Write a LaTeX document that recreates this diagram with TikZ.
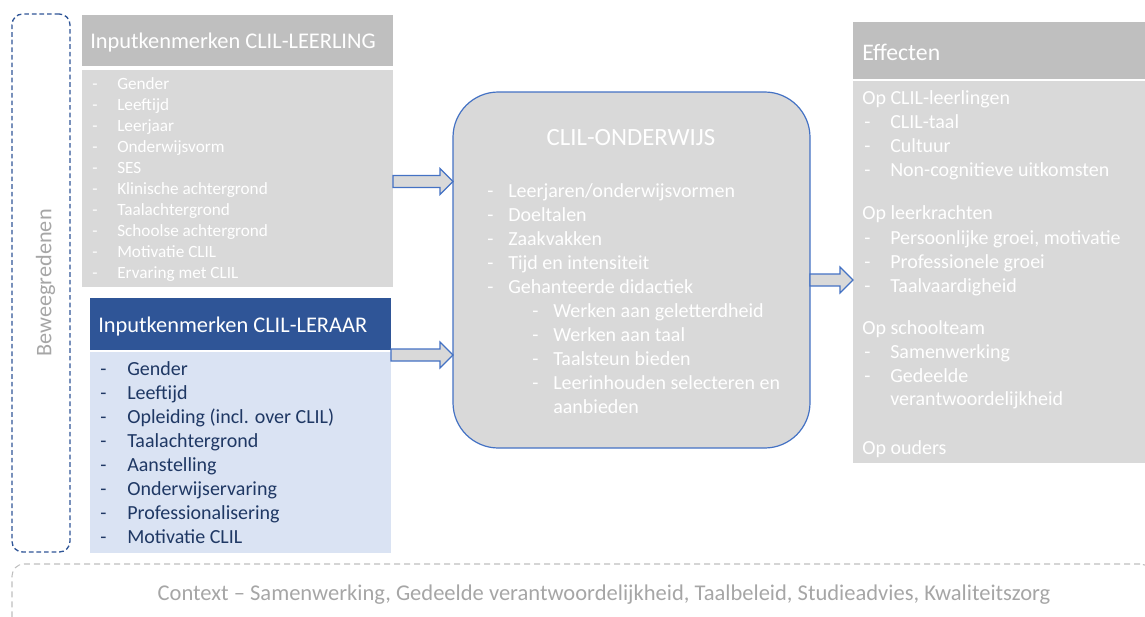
\documentclass[tikz,border=0pt]{standalone}
\usepackage{fontspec}
\setmainfont{Carlito}
\usetikzlibrary{calc}
\definecolor{headgray}{HTML}{BFBFBF}
\definecolor{listgray}{HTML}{D9D9D9}
\definecolor{navy}{HTML}{2F5597}
\definecolor{paleblue}{HTML}{DAE3F3}
\definecolor{navytext}{HTML}{1F3864}
\definecolor{edgeblue}{HTML}{4472C4}
\definecolor{sidegray}{HTML}{A6A6A6}
\newcommand{\fhead}{\fontsize{16.8}{20}\selectfont}
\newcommand{\fsmall}{\fontsize{12.9}{15}\selectfont}
\newcommand{\flist}{\fontsize{15}{18}\selectfont}
\newcommand{\ftitle}{\fontsize{18.6}{22}\selectfont}
\newcommand{\feff}{\fontsize{17.8}{21}\selectfont}
\newcommand{\fctx}{\fontsize{16.9}{20}\selectfont}
\newcommand{\fside}{\fontsize{16.7}{20}\selectfont}
% block arrow between two anchors, at height #3 (px)
\newcommand{\fatarrow}[3]{%
  \draw[fatarrow] let \p1=(#1), \p2=(#2), \p3=(0,#3) in
    (\x1,\y3+4.5pt) -- (\x2-9.75pt,\y3+4.5pt) -- (\x2-9.75pt,\y3+9.75pt) -- (\x2,\y3)
    -- (\x2-9.75pt,\y3-9.75pt) -- (\x2-9.75pt,\y3-4.5pt) -- (\x1,\y3-4.5pt) -- cycle;}
\begin{document}
\begin{tikzpicture}[x=0.75pt, y=-0.75pt,
  pxsize/.style 2 args={minimum width=#1*0.75pt, minimum height=#2*0.75pt},
  box/.style={anchor=north west, inner sep=0pt, outer sep=0pt},
  hdr/.style={box, fill=headgray},
  lst/.style={box, fill=listgray},
  wtxt/.style={text=white, inner sep=0pt, anchor=base west},
  btxt/.style={text=navytext, inner sep=0pt, anchor=base west, font=\flist},
  fatarrow/.style={draw=edgeblue, fill=listgray, line width=0.9pt}]
 \useasboundingbox (0,0) rectangle (1145,617);
 \clip (0,0) rectangle (1145,617);

 % frames
 \node[box, draw=navy, line width=1pt, dash pattern=on 3.5pt off 2.2pt, rounded corners=8pt, pxsize={58}{538}] (motives) at (12,14) {};
 \node[box, draw=headgray, line width=0.8pt, dash pattern=on 4.5pt off 3pt, rounded corners=9pt, pxsize={1140}{90}] (context) at (12,564) {};
 \node[rotate=90, text=sidegray, font=\fside, inner sep=0pt] (motivestxt) at (45.5,283) {Beweegredenen};
 \node[text=sidegray, font=\fctx, inner sep=0pt, anchor=base] (contexttxt) at (604,600)
   {Context -- Samenwerking, Gedeelde verantwoordelijkheid, Taalbeleid, Studieadvies, Kwaliteitszorg};

 % leerling
 \node[hdr, pxsize={311}{51}] (llhead) at (82,15) {};
 \node[lst, pxsize={311}{217}] (llist) at (82,70) {};
 \node[wtxt, font=\fhead] (llheadtxt) at (90,49) {Inputkenmerken CLIL-LEERLING};
 \foreach \txt [count=\i from 0] in {Gender, Leeftijd, Leerjaar, Onderwijsvorm, SES,
   Klinische achtergrond, Taalachtergrond, Schoolse achtergrond, Motivatie CLIL, Ervaring met CLIL}{
   \node[wtxt, font=\fsmall] (lld\i) at (92,{89.5+21*\i}) {-};
   \node[wtxt, font=\fsmall] (ll\i) at (117,{89.5+21*\i}) {\txt};
 }

 % leraar
 \node[box, fill=navy, pxsize={301}{52}] (lrhead) at (90,298) {};
 \node[box, fill=paleblue, pxsize={301}{201}] (lrlist) at (90,352) {};
 \node[wtxt, font=\fhead] (lrheadtxt) at (98,332) {Inputkenmerken CLIL-LERAAR};
 \foreach \txt [count=\i from 0] in {Gender, Leeftijd, Opleiding (incl. over CLIL), Taalachtergrond,
   Aanstelling, Onderwijservaring, Professionalisering, Motivatie CLIL}{
   \node[btxt] (lrd\i) at (100,{375+24.1*\i}) {-};
   \node[btxt] (lr\i) at (127,{375+24.1*\i}) {\txt};
 }

 % onderwijs
 \node[box, draw=edgeblue, fill=listgray, line width=0.9pt, rounded corners=34pt, pxsize={357}{356}] (clil) at (453,92) {};
 \node[text=white, font=\ftitle, inner sep=0pt, anchor=base] (cliltxt) at (631,145) {CLIL-ONDERWIJS};
 \foreach \txt [count=\i from 0] in {Leerjaren/onderwijsvormen, Doeltalen, Zaakvakken,
   Tijd en intensiteit, Gehanteerde didactiek}{
   \node[wtxt, font=\flist] (cld\i) at (487,{197.3+24*\i}) {-};
   \node[wtxt, font=\flist] (cl\i) at (508,{197.3+24*\i}) {\txt};
 }
 \foreach \txt [count=\i from 5] in {Werken aan geletterdheid, Werken aan taal, Taalsteun bieden,
   Leerinhouden selecteren en}{
   \node[wtxt, font=\flist] (cld\i) at (532,{197.3+24*\i}) {-};
   \node[wtxt, font=\flist] (cl\i) at (553,{197.3+24*\i}) {\txt};
 }
 \node[wtxt, font=\flist] (cl9) at (553,413.3) {aanbieden};

 % effecten
 \node[hdr, pxsize={300}{57}] (efhead) at (853,22) {};
 \node[lst, pxsize={300}{382}] (eflist) at (853,81) {};
 \node[wtxt, font=\feff] (efheadtxt) at (862,60.5) {Effecten};
 \foreach \y/\txt in {98/Op CLIL-leerlingen, 213/Op leerkrachten, 328/Op schoolteam, 448/Op ouders}
   \node[wtxt, font=\flist] (efh\y) at (862,{\y+6.3}) {\txt};
 \foreach \y/\txt in {122/CLIL-taal, 146/Cultuur, 170/Non-cognitieve uitkomsten,
   238/{Persoonlijke groei, motivatie}, 262/Professionele groei, 286/Taalvaardigheid,
   352/Samenwerking, 376/Gedeelde}{
   \node[wtxt, font=\flist] (efd\y) at (864,{\y+6.3}) {-};
   \node[wtxt, font=\flist] (ef\y) at (890,{\y+6.3}) {\txt};
 }
 \node[wtxt, font=\flist] (ef399) at (890,405.3) {verantwoordelijkheid};

 % arrows
 \fatarrow{llist.east}{clil.west}{181.5}
 \fatarrow{lrhead.east}{clil.west}{355}
 \fatarrow{clil.east}{eflist.west}{280}
\end{tikzpicture}
\end{document}
